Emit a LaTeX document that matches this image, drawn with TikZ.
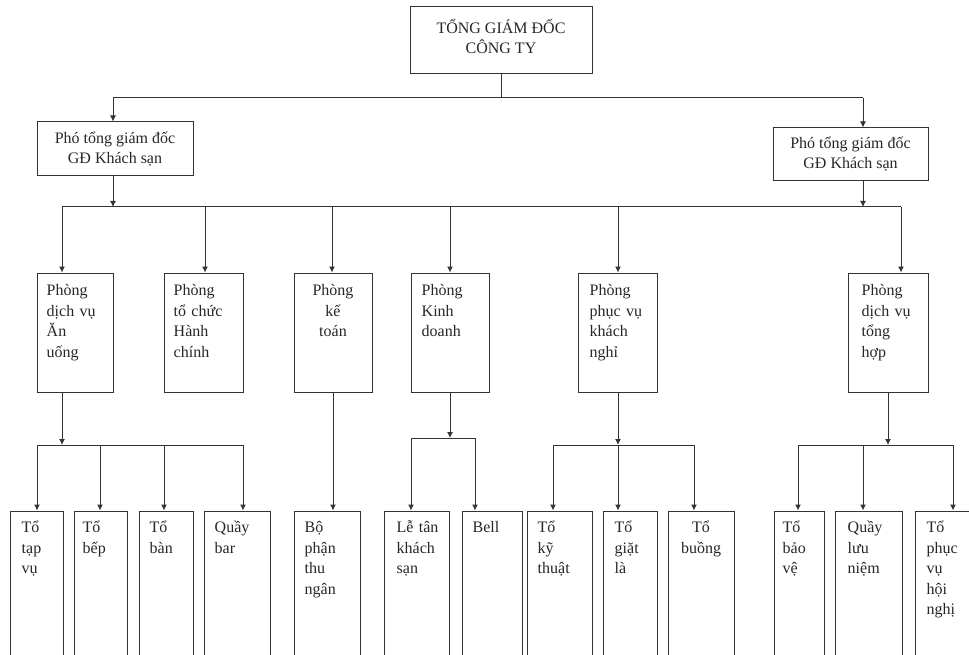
\documentclass[tikz,border=0pt]{standalone}
\usepackage{fontspec}
\setmainfont{Liberation Serif}
\usetikzlibrary{arrows.meta}
\begin{document}
\begin{tikzpicture}[x=1pt,y=-1pt,
  box/.style={draw=black!80,line width=1pt,inner sep=0pt},
  head/.style={box,align=center,text=black!85,font=\fontsize{16}{20}\selectfont},
  txt/.style={inner sep=0pt,text width=#1,align=left,text=black!85,font=\fontsize{16}{20.5}\selectfont},
  txt/.default=48,
  link/.style={draw=black!80,line width=1pt},
  arr/.style={link,-{Latex[length=6pt,width=6pt]}}]
  \useasboundingbox (0,0) rectangle (969,655);
  \clip (0,0) rectangle (969,655);

  % top level
  \node[head,minimum width=182,minimum height=67,text depth=9pt] (gd) at (501,40.5) {TỔNG GIÁM ĐỐC\\CÔNG TY};
  \node[head,minimum width=156,minimum height=54] (vp1) at (115,149) {Phó tổng giám đốc\\GĐ Khách sạn};
  \node[head,minimum width=155,minimum height=53] (vp2) at (850.5,154.5) {Phó tổng giám đốc\\GĐ Khách sạn};

  \coordinate (m1) at (113,98);
  \coordinate (m2) at (863,98);
  \draw[link] (gd.south) -- (gd.south |- m1);
  \draw[link] (m1) -- (m2);
  \draw[arr] (m1) -- (m1 |- vp1.north);
  \draw[arr] (m2) -- (m2 |- vp2.north);

  % departments
  \foreach \n/\x/\w in {d1/75/76,d2/203.5/79,d3/333/78,d4/450/78,d5/617.5/79,d6/888/80}
    \node[box,minimum width=\w,minimum height=119] (\n) at (\x,332.5) {};

  \coordinate (n0) at (62,207);
  \coordinate (n1) at (113,207);
  \coordinate (n2) at (863,207);
  \coordinate (n9) at (901,207);
  \draw[link] (n0) -- (n9);
  \draw[arr] (n1 |- vp1.south) -- (n1);
  \draw[arr] (n2 |- vp2.south) -- (n2);
  \foreach \n/\x in {d1/62,d2/205,d3/332,d4/450,d5/618,d6/901}
    \draw[arr] (\x,0 |- n0) -- (\x,0 |- \n.north);

  \node[txt=62,anchor=base west] (d1t) at ([shift={(10,23)}]d1.north west) {Phòng\\dịch vụ\\Ăn\\uống};
  \node[txt=62,anchor=base west] (d2t) at ([shift={(10,23)}]d2.north west) {Phòng\\tổ chức\\Hành\\chính};
  \node[txt=60,align=center,anchor=base] (d3t) at ([shift={(0,23)}]d3.north) {Phòng\\kế\\toán};
  \node[txt=62,anchor=base west] (d4t) at ([shift={(11,23)}]d4.north west) {Phòng\\Kinh\\doanh};
  \node[txt=62,anchor=base west] (d5t) at ([shift={(12,23)}]d5.north west) {Phòng\\phục vụ\\khách\\nghỉ};
  \node[txt=62,anchor=base west] (d6t) at ([shift={(14,23)}]d6.north west) {Phòng\\dịch vụ\\tổng\\hợp};

  % teams
  \foreach \n/\x/\w in {a1/36.5/53,a2/100.5/53,a3/166/54,a4/237/66,b1/327/66,c1/416.5/65,c2/492/60,
                        e1/559.5/65,e2/630/54,e3/701/66,f1/799/50,f2/868.5/67,f3/945/60}
    \node[box,minimum width=\w,minimum height=159] (\n) at (\x,590.5) {};

  \coordinate (ga) at (62,445);
  \draw[arr] (ga |- d1.south) -- (ga);
  \foreach \n/\x in {a1/37,a2/100,a3/164,a4/243}
    \draw[arr] (ga) -| (\x,0 |- \n.north);

  \draw[arr] (d3.south) -- (d3.south |- b1.north);

  \coordinate (gc) at (450,438);
  \draw[arr] (gc |- d4.south) -- (gc);
  \foreach \n/\x in {c1/411,c2/475}
    \draw[arr] (gc) -| (\x,0 |- \n.north);

  \coordinate (ge) at (618,445);
  \draw[arr] (ge |- d5.south) -- (ge);
  \foreach \n/\x in {e1/553,e2/618,e3/694}
    \draw[arr] (ge) -| (\x,0 |- \n.north);

  \coordinate (gf) at (888,445);
  \draw[arr] (gf |- d6.south) -- (gf);
  \foreach \n/\x in {f1/798,f2/863,f3/953}
    \draw[arr] (gf) -| (\x,0 |- \n.north);

  \node[txt,anchor=base west] (a1t) at ([shift={(12,22)}]a1.north west) {Tổ\\tạp\\vụ};
  \node[txt,anchor=base west] (a2t) at ([shift={(9,22)}]a2.north west) {Tổ\\bếp};
  \node[txt,anchor=base west] (a3t) at ([shift={(11,22)}]a3.north west) {Tổ\\bàn};
  \node[txt,anchor=base west] (a4t) at ([shift={(11,22)}]a4.north west) {Quầy\\bar};
  \node[txt,anchor=base west] (b1t) at ([shift={(11,22)}]b1.north west) {Bộ\\phận\\thu\\ngân};
  \node[txt,anchor=base west] (c1t) at ([shift={(13,22)}]c1.north west) {Lễ tân\\khách\\sạn};
  \node[txt,anchor=base west] (c2t) at ([shift={(11,22)}]c2.north west) {Bell};
  \node[txt,anchor=base west] (e1t) at ([shift={(11,22)}]e1.north west) {Tổ\\kỹ\\thuật};
  \node[txt,anchor=base west] (e2t) at ([shift={(12,22)}]e2.north west) {Tổ\\giặt\\là};
  \node[txt=60,align=center,anchor=base] (e3t) at ([shift={(0,22)}]e3.north) {Tổ\\buồng};
  \node[txt,anchor=base west] (f1t) at ([shift={(9,22)}]f1.north west) {Tổ\\bảo\\vệ};
  \node[txt,anchor=base west] (f2t) at ([shift={(13,22)}]f2.north west) {Quầy\\lưu\\niệm};
  \node[txt,anchor=base west] (f3t) at ([shift={(12,22)}]f3.north west) {Tổ\\phục\\vụ\\hội\\nghị};
\end{tikzpicture}
\end{document}
